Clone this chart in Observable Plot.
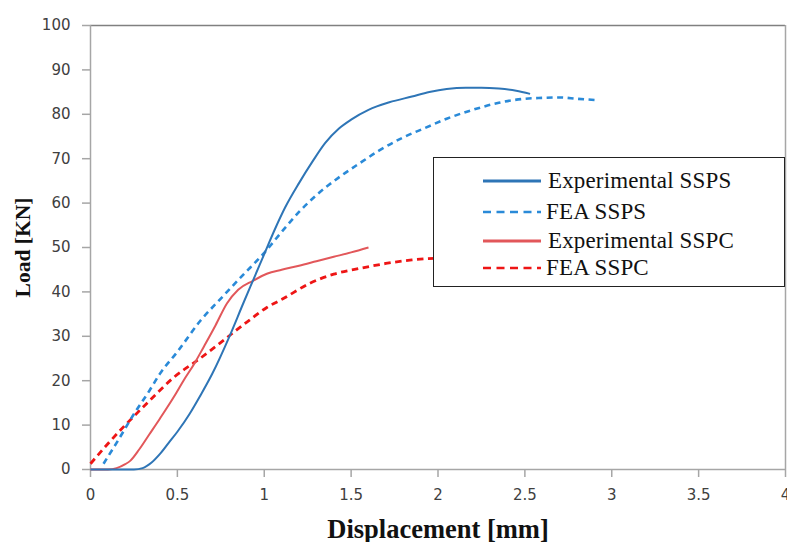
<!DOCTYPE html>
<html>
<head>
<meta charset="utf-8">
<script src="https://cdn.jsdelivr.net/npm/d3@7"></script>
<script src="https://cdn.jsdelivr.net/npm/@observablehq/plot@0.6"></script>
<style>
  html, body { margin: 0; padding: 0; background: #fff; }
  #wrap { position: relative; width: 787px; height: 542px; overflow: hidden; }
  #legend { position: absolute; left: 433px; top: 157px; width: 352px; height: 130px;
    border: 1.5px solid #222; background: #fff; box-sizing: border-box; }
  .row { position: absolute; left: 0; height: 28px; display: flex; align-items: center; }
  .row svg { display: block; }
  .row span { font-family: "Liberation Serif", serif; font-size: 23px; color: #111; margin-left: 7px; letter-spacing: 0.15px; }
</style>
</head>
<body>
<div id="wrap"></div>
<script>
// ---- data ----
const seriesNames = ["Experimental SSPS", "FEA SSPS", "Experimental SSPC", "FEA SSPC"];

const expSSPS_x = [0, 0.15, 0.25, 0.3, 0.35, 0.4, 0.45, 0.5, 0.57, 0.63, 0.7, 0.8, 0.88, 0.94, 1.0, 1.06, 1.12, 1.2, 1.28, 1.35, 1.43, 1.5, 1.6, 1.72, 1.85, 1.95, 2.05, 2.16, 2.25, 2.35, 2.45, 2.53];
const expSSPS_y = [0, 0, 0, 0.3, 1.5, 3.5, 6, 8.5, 12.5, 16.5, 21.5, 30, 37.5, 43, 48.5, 54, 59, 64.5, 69.5, 73.5, 76.8, 78.8, 81, 82.7, 84, 85, 85.7, 86, 86, 85.8, 85.3, 84.6];

const feaSSPS_x = [0.075, 0.15, 0.25, 0.34, 0.4, 0.5, 0.63, 0.75, 0.87, 1.0, 1.1, 1.2, 1.3, 1.43, 1.55, 1.66, 1.8, 1.93, 2.05, 2.2, 2.35, 2.5, 2.6, 2.7, 2.8, 2.91];
const feaSSPS_y = [1.3, 6, 12.5, 17.8, 21.6, 26.5, 33.4, 38.5, 43.5, 48.8, 53.5, 58, 61.8, 65.8, 69, 71.8, 74.8, 77, 79, 81, 82.6, 83.5, 83.7, 83.8, 83.5, 83.2];

const expSSPC_x = [0, 0.1, 0.15, 0.2, 0.23, 0.28, 0.34, 0.4, 0.49, 0.535, 0.6, 0.65, 0.72, 0.785, 0.85, 0.935, 1.015, 1.1, 1.2, 1.3, 1.4, 1.5, 1.6];
const expSSPC_y = [0, 0, 0.3, 1.2, 2, 4.5, 8, 11.5, 17, 20, 24, 27.5, 32.5, 37.4, 40.5, 42.5, 44.1, 45, 45.9, 46.9, 47.9, 48.9, 50];

const feaSSPC_x = [0, 0.1, 0.2, 0.34, 0.478, 0.63, 0.785, 0.9, 1.015, 1.11, 1.26, 1.4, 1.55, 1.7, 1.85, 2.0, 2.15];
const feaSSPC_y = [1.3, 5.8, 10, 15.5, 20.7, 25, 29.7, 33.2, 36.5, 38.5, 41.9, 44, 45.3, 46.4, 47.2, 47.6, 47.8];

const xTicks = [0, 0.5, 1, 1.5, 2, 2.5, 3, 3.5, 4];
const yTicks = [0, 10, 20, 30, 40, 50, 60, 70, 80, 90, 100];
const xTitle = "Displacement [mm]";
const yTitle = "Load [KN]";

// ---- build ----
const toRows = (xs, ys) => xs.map((x, i) => ({x, y: ys[i]}));
const expSSPS = toRows(expSSPS_x, expSSPS_y);
const feaSSPS = toRows(feaSSPS_x, feaSSPS_y);
const expSSPC = toRows(expSSPC_x, expSSPC_y);
const feaSSPC = toRows(feaSSPC_x, feaSSPC_y);

const styles = [
  {color: "#2E75B6", width: 2, dash: null},
  {color: "#2A8AD8", width: 2.6, dash: "6,4.5"},
  {color: "#E2575A", width: 2, dash: null},
  {color: "#EE1515", width: 2.8, dash: "6.5,4.5"}
];
const datasets = [expSSPS, feaSSPS, expSSPC, feaSSPC];

const tickFont = {fontFamily: "DejaVu Sans", fontSize: 15};

const chart = Plot.plot({
  width: 787,
  height: 542,
  marginLeft: 90,
  marginRight: 2,
  marginTop: 25,
  marginBottom: 73,
  style: {background: "#fff", overflow: "visible", color: "#404040"},
  x: {domain: [0, 4]},
  y: {domain: [0, 100]},
  marks: [
    Plot.ruleY([100], {stroke: "#808080", strokeWidth: 1.5}),
    Plot.ruleX([4], {stroke: "#A6A6A6", strokeWidth: 1.5}),
    Plot.axisX({ticks: xTicks, tickFormat: d => String(d), tickSize: 8, tickPadding: 12, label: null,
      stroke: "#A6A6A6", strokeWidth: 1.5, fill: "#404040", ...tickFont}),
    Plot.axisY({ticks: yTicks, tickSize: 8, tickPadding: 12, label: null,
      stroke: "#A6A6A6", strokeWidth: 1.5, fill: "#404040", ...tickFont}),
    Plot.ruleX([0], {stroke: "#A6A6A6", strokeWidth: 1.5}),
    Plot.ruleY([0], {stroke: "#A6A6A6", strokeWidth: 1.5}),
    ...[3, 2, 1, 0].map(i => Plot.line(datasets[i], {
      x: "x", y: "y", curve: "monotone-x",
      stroke: styles[i].color, strokeWidth: styles[i].width,
      strokeDasharray: styles[i].dash, strokeLinecap: "butt"
    })),
    Plot.text([xTitle], {frameAnchor: "bottom", dy: 68, lineAnchor: "bottom", textAnchor: "middle", text: d => d,
      fontFamily: "Liberation Serif", fontWeight: "bold", fontSize: 26.5, fill: "#111"}),
    Plot.text([yTitle], {frameAnchor: "left", dx: -67, rotate: -90, textAnchor: "middle", text: d => d,
      fontFamily: "Liberation Serif", fontWeight: "bold", fontSize: 21.5, fill: "#111"})
  ]
});

const wrap = document.getElementById("wrap");
wrap.appendChild(chart);

// legend (HTML over the plot)
const legend = document.createElement("div");
legend.id = "legend";
const rowTops = [9, 40, 69, 96];
seriesNames.forEach((name, i) => {
  const row = document.createElement("div");
  row.className = "row";
  row.style.top = rowTops[i] + "px";
  const s = styles[i];
  row.style.left = "49px";
  const sw = d3.create("svg").attr("width", 58).attr("height", 28);
  sw.append("line").attr("x1", 0).attr("x2", 58).attr("y1", 14).attr("y2", 14)
    .attr("stroke", s.color)
    .attr("stroke-width", s.dash ? 2.5 : 3.2)
    .attr("stroke-dasharray", s.dash ? "8,5.5" : null);
  row.appendChild(sw.node());
  const t = document.createElement("span");
  t.textContent = name;
  if (s.dash) t.style.marginLeft = "5px";
  row.appendChild(t);
  legend.appendChild(row);
});
wrap.appendChild(legend);
</script>
</body>
</html>
